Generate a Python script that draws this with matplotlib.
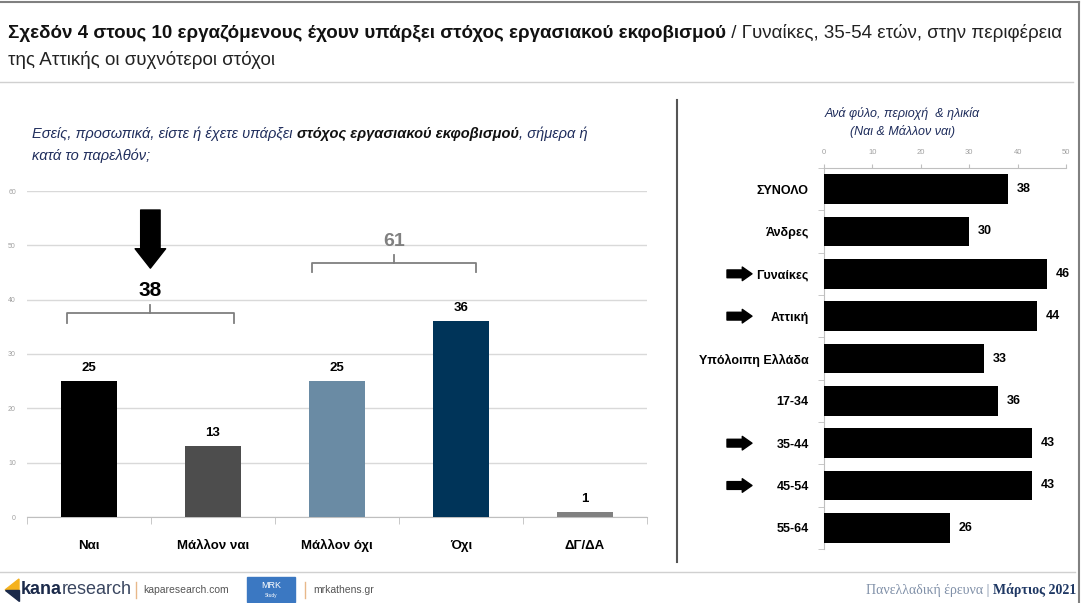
import matplotlib
matplotlib.use("Agg")
from matplotlib import pyplot as plt
from matplotlib.patches import Rectangle, Polygon

plt.rcParams['font.family'] = ['Liberation Sans', 'DejaVu Sans']

# left chart: question answers
answers = ["Ναι", "Μάλλον ναι", "Μάλλον όχι", "Όχι", "ΔΓ/ΔΑ"]
answer_values = [25, 13, 25, 36, 1]
answer_colors = ["#000000", "#4d4d4d", "#6a8ba4", "#003459", "#808080"]

# right chart: Ναι & Μάλλον ναι by group
groups = ["ΣΥΝΟΛΟ", "Άνδρες", "Γυναίκες", "Αττική", "Υπόλοιπη Ελλάδα", "17-34", "35-44", "45-54", "55-64"]
group_values = [38, 30, 46, 44, 33, 36, 43, 43, 26]
highlighted = ["Γυναίκες", "Αττική", "35-44", "45-54"]

yes_total = answer_values[0] + answer_values[1]
no_total = answer_values[2] + answer_values[3]

NAVY = "#1f2d5c"
GRID = "#d9d9d9"
AXIS = "#bfbfbf"

fig = plt.figure(figsize=(10.82, 6.03), dpi=100)

# background axes in pixel coords for frame, titles, footer
bg = fig.add_axes([0, 0, 1, 1], zorder=-1)
bg.set_xlim(0, 1082)
bg.set_ylim(603, 0)
bg.set_axis_off()

bg.plot([0, 1079], [2, 2], color="#808080", lw=1.5)
bg.plot([1079, 1079], [2, 603], color="#808080", lw=1.5)
bg.plot([0, 1073], [82, 82], color="#d0d0d0", lw=1)
bg.plot([677, 677], [100, 562], color="#555555", lw=1.5)
bg.plot([0, 1075], [572, 572], color="#d0d0d0", lw=1)

# title
t1 = bg.text(8, 33, "Σχεδόν 4 στους 10 εργαζόμενους έχουν υπάρξει στόχος εργασιακού εκφοβισμού",
             fontsize=13.5, weight="bold", color="#111111", va="center")
bg.annotate(" / Γυναίκες, 35-54 ετών, στην περιφέρεια", xy=(1, 0), xycoords=t1,
            fontsize=13.5, color="#222222", va="bottom")
bg.text(8, 60, "της Αττικής οι συχνότεροι στόχοι", fontsize=13.5, color="#222222", va="center")

# left subtitle
q1 = bg.text(32, 134, "Εσείς, προσωπικά, είστε ή έχετε υπάρξει ", fontsize=10.5,
             style="italic", color=NAVY, va="center")
q2 = bg.annotate("στόχος εργασιακού εκφοβισμού", xy=(1, 0), xycoords=q1, fontsize=10.5,
                 style="italic", weight="bold", color="#111111", va="bottom")
bg.annotate(", σήμερα ή", xy=(1, 0), xycoords=q2, fontsize=10.5, style="italic",
            color=NAVY, va="bottom")
bg.text(32, 156, "κατά το παρελθόν;", fontsize=10.5, style="italic", color=NAVY, va="center")

# right subtitle
bg.text(902, 113, "Ανά φύλο, περιοχή  & ηλικία", fontsize=9, style="italic", color=NAVY,
        ha="center", va="center")
bg.text(902, 131, "(Ναι & Μάλλον ναι)", fontsize=9, style="italic", color=NAVY,
        ha="center", va="center")

# ---- left chart
axL = fig.add_axes([27 / 1082, 1 - 517 / 603, 620 / 1082, 326 / 603])
xs = list(range(len(answers)))
axL.bar(xs, answer_values, width=0.45, color=answer_colors, zorder=3)
for x, v in zip(xs, answer_values):
    axL.text(x, v + 1.3, str(v), ha="center", va="bottom", fontsize=9.5, weight="bold")

axL.set_xlim(-0.5, len(answers) - 0.5)
axL.set_ylim(0, 60)
axL.set_yticks(range(0, 61, 10))
axL.yaxis.grid(True, color=GRID, lw=1)
axL.set_axisbelow(True)
for s in ["top", "right", "left"]:
    axL.spines[s].set_visible(False)
axL.spines["bottom"].set_color(AXIS)
axL.set_xticks(xs)
axL.set_xticklabels(answers, fontsize=9.5, weight="bold", va="baseline")
axL.set_xticks([x - 0.5 for x in xs] + [xs[-1] + 0.5], minor=True)
axL.tick_params(axis="x", which="major", length=0, pad=23)
axL.tick_params(axis="x", which="minor", length=5, color=AXIS)
axL.tick_params(axis="y", length=0, labelsize=5, labelcolor="#a0a0a0", pad=8)


def bracket(ax, x0, x1, y, drop, rise, label, color, size):
    xc = (x0 + x1) / 2
    ax.plot([x0, x0, x1, x1], [y - drop, y, y, y - drop], color="#7f7f7f", lw=1.3)
    ax.plot([xc, xc], [y, y + rise], color="#7f7f7f", lw=1.3)
    ax.text(xc, y + rise + 1.0, label, ha="center", va="bottom", fontsize=size,
            weight="bold", color=color)
    return xc


xc1 = bracket(axL, 0 - 0.18, 1 + 0.17, 37.5, 1.8, 1.5, str(yes_total), "#000000", 15)
bracket(axL, 2 - 0.2, 3 + 0.12, 46.7, 1.6, 1.5, str(no_total), "#808080", 14)
axL.annotate("", xy=(xc1, 45.8), xytext=(xc1, 56.5),
             arrowprops=dict(arrowstyle="simple,head_length=0.7,head_width=1.1,tail_width=0.7",
                             mutation_scale=20, color="black", shrinkA=0, shrinkB=0))

# ---- right chart
axR = fig.add_axes([824 / 1082, 1 - 549 / 603, 242 / 1082, 381 / 603])
ys = list(range(len(groups)))
axR.barh(ys, group_values, height=0.7, color="black", zorder=3)
for y, v in zip(ys, group_values):
    axR.text(v + 1.8, y, str(v), ha="left", va="center", fontsize=9, weight="bold")

axR.set_xlim(0, 50)
axR.set_ylim(len(groups) - 0.5, -0.5)
axR.xaxis.tick_top()
axR.set_xticks(range(0, 51, 10))
for s in ["bottom", "right"]:
    axR.spines[s].set_visible(False)
axR.spines["top"].set_color(AXIS)
axR.spines["left"].set_color(AXIS)
axR.set_yticks(ys)
axR.set_yticklabels(groups, fontsize=9, weight="bold")
axR.set_yticks([y - 0.5 for y in ys] + [ys[-1] + 0.5], minor=True)
axR.tick_params(axis="y", which="major", length=0, pad=11)
axR.tick_params(axis="y", which="minor", length=4, color=AXIS)
axR.tick_params(axis="x", length=3, color=AXIS, labelsize=5.5, labelcolor="#a0a0a0", pad=6)

for name in highlighted:
    i = groups.index(name)
    axR.annotate("", xy=(752, i), xytext=(727, i), xycoords=("figure pixels", "data"),
                 textcoords=("figure pixels", "data"),
                 arrowprops=dict(arrowstyle="simple,head_length=0.5,head_width=0.7,tail_width=0.4",
                                 mutation_scale=14, color="black", shrinkA=0, shrinkB=0))

# ---- footer
bg.add_patch(Polygon([[5, 590], [19, 579], [19, 590]], color="#f5b21e"))
bg.add_patch(Polygon([[5, 590], [19, 590], [19, 601]], color="#1b2a4a"))
k1 = bg.text(21, 590, "kana", fontsize=13, weight="bold", color="#1b2a4a", va="center")
bg.annotate("research", xy=(1, 0), xycoords=k1, fontsize=13, color="#3a4660", va="bottom")
bg.plot([136, 136], [582, 598], color="#e8b88a", lw=1)
bg.text(143, 590, "kaparesearch.com", fontsize=7.5, color="#555555", va="center")
bg.add_patch(Rectangle((247, 577), 48, 25, color="#3b78c2"))
bg.text(271, 586, "MRK", fontsize=6.5, color="white", ha="center", va="center")
bg.text(271, 596, "Study", fontsize=3.5, color="white", ha="center", va="center")
bg.plot([305, 305], [582, 598], color="#e8b88a", lw=1)
bg.text(313, 590, "mrkathens.gr", fontsize=7.5, color="#555555", va="center")

f2 = bg.text(1076, 590, "Μάρτιος 2021", fontsize=10, weight="bold", color="#1f3864",
             ha="right", va="center", family=["Liberation Serif", "DejaVu Serif"])
bg.annotate("Πανελλαδική έρευνα | ", xy=(0, 0), xycoords=f2, fontsize=10, color="#8090a8",
            ha="right", va="bottom", family=["Liberation Serif", "DejaVu Serif"])

fig.savefig("out.png", dpi=100)
